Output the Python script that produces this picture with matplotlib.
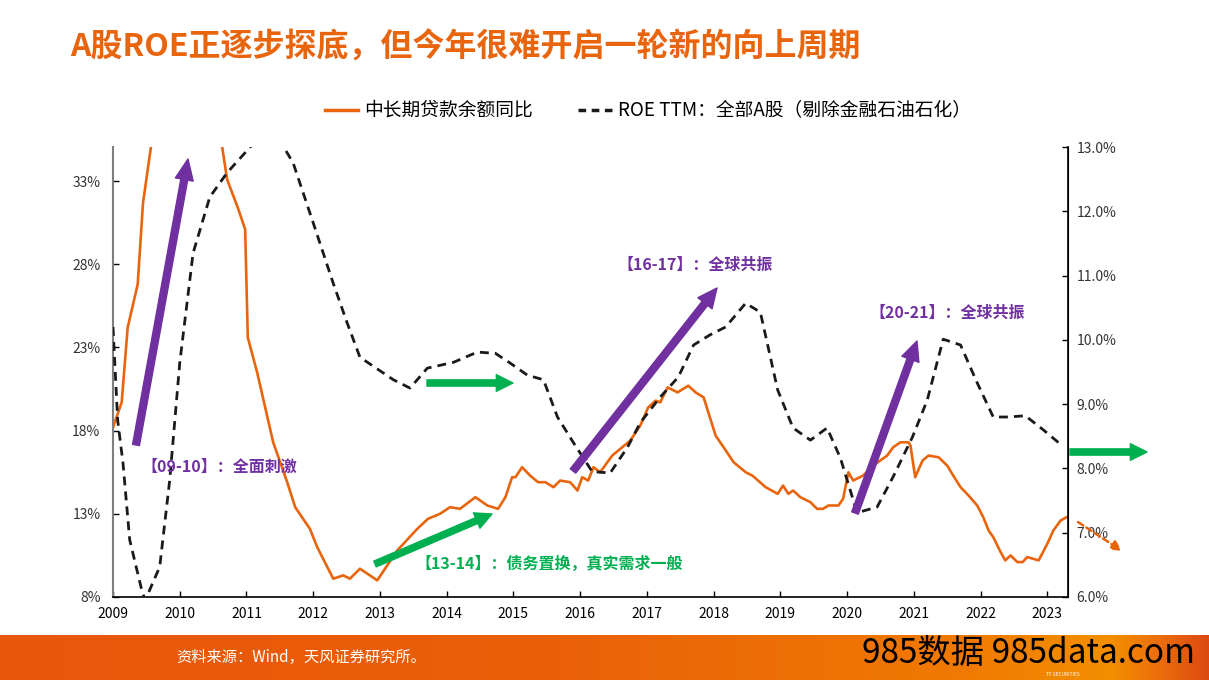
import numpy as np
import matplotlib
matplotlib.use("Agg")
import matplotlib.pyplot as plt
from matplotlib.lines import Line2D
from matplotlib.patches import FancyArrowPatch
from matplotlib.colors import LinearSegmentedColormap

plt.rcParams['font.family'] = ['Noto Sans CJK SC', 'DejaVu Sans']

# 中长期贷款余额同比 (左轴, %)
loan_t = [2009.00, 2009.13, 2009.22, 2009.37, 2009.45, 2009.62, 2009.90, 2010.30, 2010.63,
          2010.71, 2010.87, 2010.98, 2011.02, 2011.16, 2011.40, 2011.61, 2011.73, 2011.95,
          2012.06, 2012.30, 2012.45, 2012.55, 2012.70, 2012.96, 2013.26, 2013.56, 2013.72,
          2013.90, 2014.05, 2014.20, 2014.43, 2014.61, 2014.77, 2014.88, 2014.98, 2015.03,
          2015.13, 2015.25, 2015.37, 2015.48, 2015.60, 2015.70, 2015.85, 2015.96, 2016.03,
          2016.12, 2016.20, 2016.30, 2016.48, 2016.57, 2016.75, 2016.90, 2017.02, 2017.13,
          2017.20, 2017.31, 2017.46, 2017.62, 2017.73, 2017.85, 2018.03, 2018.15, 2018.30,
          2018.48, 2018.58, 2018.78, 2018.96, 2019.04, 2019.12, 2019.19, 2019.30, 2019.45,
          2019.55, 2019.64, 2019.72, 2019.87, 2019.94, 2020.02, 2020.09, 2020.24, 2020.39,
          2020.60, 2020.69, 2020.80, 2020.92, 2020.95, 2021.02, 2021.13, 2021.22, 2021.37,
          2021.50, 2021.59, 2021.70, 2021.82, 2021.95, 2022.04, 2022.12, 2022.19, 2022.30,
          2022.37, 2022.45, 2022.55, 2022.63, 2022.70, 2022.87, 2023.00, 2023.09, 2023.20,
          2023.29]
loan_v = [18.2, 19.7, 24.2, 26.8, 31.7, 36.5, 40.0, 40.0, 35.2,
          33.1, 31.4, 30.1, 23.6, 21.5, 17.3, 14.9, 13.4, 12.1,
          11.0, 9.1, 9.3, 9.1, 9.7, 9.0, 10.8, 12.1, 12.7,
          13.0, 13.4, 13.3, 14.0, 13.5, 13.3, 14.0, 15.2, 15.2,
          15.8, 15.3, 14.9, 14.9, 14.6, 15.0, 14.9, 14.4, 15.2,
          15.0, 15.8, 15.5, 16.5, 16.8, 17.4, 18.3, 19.4, 19.8,
          19.7, 20.6, 20.3, 20.7, 20.3, 20.0, 17.7, 17.0, 16.1,
          15.5, 15.3, 14.6, 14.2, 14.7, 14.2, 14.4, 14.0, 13.7,
          13.3, 13.3, 13.5, 13.5, 13.9, 15.5, 15.0, 15.3, 15.9,
          16.5, 17.0, 17.3, 17.3, 17.1, 15.2, 16.2, 16.5, 16.4,
          15.9, 15.3, 14.6, 14.1, 13.5, 12.8, 12.0, 11.6, 10.7,
          10.2, 10.5, 10.1, 10.1, 10.4, 10.2, 11.2, 12.0, 12.6,
          12.8]

# ROE TTM：全部A股（剔除金融石油石化）(右轴, %)
roe_t = [2009.00, 2009.07, 2009.15, 2009.25, 2009.43, 2009.48, 2009.55, 2009.70, 2009.85,
         2010.00, 2010.20, 2010.45, 2010.71, 2011.10, 2011.32, 2011.53, 2011.70, 2012.00,
         2012.30, 2012.51, 2012.70, 2013.20, 2013.45, 2013.71, 2014.10, 2014.46, 2014.73,
         2014.95, 2015.21, 2015.45, 2015.66, 2015.90, 2016.18, 2016.45, 2016.71, 2016.90,
         2017.20, 2017.47, 2017.70, 2017.95, 2018.18, 2018.48, 2018.70, 2018.96, 2019.19,
         2019.45, 2019.70, 2019.90, 2020.15, 2020.45, 2020.69, 2020.98, 2021.20, 2021.44,
         2021.70, 2021.95, 2022.19, 2022.42, 2022.67, 2022.94, 2023.17]
roe_v = [10.2, 8.75, 8.08, 6.89, 6.11, 5.95, 6.11, 6.47, 7.82,
         9.64, 11.35, 12.22, 12.60, 13.05, 13.15, 13.05, 12.75, 11.82,
         10.88, 10.26, 9.73, 9.38, 9.25, 9.56, 9.65, 9.81, 9.79,
         9.64, 9.45, 9.38, 8.80, 8.40, 7.95, 7.93, 8.33, 8.71,
         9.11, 9.42, 9.92, 10.08, 10.20, 10.57, 10.43, 9.22, 8.63,
         8.44, 8.63, 8.16, 7.31, 7.40, 7.87, 8.49, 9.06, 10.01,
         9.92, 9.33, 8.80, 8.80, 8.82, 8.60, 8.40]

years = list(range(2009, 2024))
left_ticks = [8, 13, 18, 23, 28, 33]
right_ticks = [6, 7, 8, 9, 10, 11, 12, 13]

ORANGE = '#E8650E'
PURPLE = '#7030A0'
GREEN = '#00B050'
W, H = 1209, 680


def fx(x):
    return x / W


def fy(y):
    return 1 - y / H


fig = plt.figure(figsize=(12.09, 6.80), dpi=100)

# 底部橙色条
band = fig.add_axes([0, 0, 1, fy(635)])
band.axis('off')
cmap = LinearSegmentedColormap.from_list(
    'band', [(0, '#E8560C'), (0.45, '#EA6008'), (0.8, '#F07A02'),
             (0.92, '#F38F00'), (0.96, '#EC6E0C'), (1, '#DC4A10')])
band.imshow(np.linspace(0, 1, 256)[None, :], aspect='auto', cmap=cmap,
            extent=[0, 1, 0, 1])
band.set_xlim(0, 1)
band.set_ylim(0, 1)

ax = fig.add_axes([fx(113), fy(597), fx(1068) - fx(113), fy(147) - fy(597)])
ax2 = ax.twinx()

ax.plot(loan_t, loan_v, color=ORANGE, lw=1.9, zorder=3)
ax2.plot(roe_t, roe_v, color='#1a1a1a', lw=2.0, ls=(0, (3.2, 2.2)), zorder=2)

ax.set_xlim(2009, 2023.31)
ax.set_ylim(8, 35.05)
ax2.set_ylim(6, 13)
ax.set_xticks(years)
ax.set_xticklabels([str(y) for y in years], fontsize=10)
ax.set_yticks(left_ticks)
ax.set_yticklabels([f'{v}%' for v in left_ticks], fontsize=10, color='#333333')
ax2.set_yticks(right_ticks)
ax2.set_yticklabels([f'{v:.1f}%' for v in right_ticks], fontsize=10, color='#333333')

for a in (ax, ax2):
    a.spines['top'].set_visible(False)
    a.tick_params(direction='in', length=4, width=1, pad=6)
ax.spines['left'].set_color('#7f7f7f')
ax.spines['left'].set_linewidth(1.5)
ax.spines['bottom'].set_linewidth(1.2)
ax2.spines['right'].set_linewidth(1.2)
ax2.spines['left'].set_visible(False)
ax2.spines['bottom'].set_visible(False)
ax.tick_params(axis='x', pad=7)
ax.tick_params(axis='y', pad=9)

# 标题
fig.text(fx(70), fy(48), 'A股ROE正逐步探底，但今年很难开启一轮新的向上周期',
         fontsize=23, fontweight='bold', color=ORANGE, va='center', ha='left')

# 图例
fig.add_artist(Line2D([fx(325), fx(358)], [fy(110), fy(110)], color=ORANGE, lw=2.5))
fig.text(fx(364), fy(110), '中长期贷款余额同比', fontsize=13.5, va='center', ha='left')
fig.add_artist(Line2D([fx(578), fx(612)], [fy(110), fy(110)], color='#1a1a1a', lw=2.5,
                      ls=(0, (2.2, 1.6))))
fig.text(fx(618), fy(110), 'ROE TTM：全部A股（剔除金融石油石化）', fontsize=13.5,
         va='center', ha='left')


def arrow(x0, y0, x1, y1, color, tail=5, hw=13, hl=13, **kw):
    p = FancyArrowPatch((fx(x0), fy(y0)), (fx(x1), fy(y1)), transform=fig.transFigure,
                        arrowstyle=f'simple,head_length={hl},head_width={hw},tail_width={tail}',
                        color=color, shrinkA=0, shrinkB=0, mutation_scale=1, **kw)
    fig.add_artist(p)


arrow(136, 445, 188, 159, PURPLE, tail=5, hw=13, hl=15)
arrow(427, 383, 513, 383, GREEN, tail=4.5, hw=12, hl=12)
arrow(375, 564, 492, 514, GREEN, tail=4.5, hw=12, hl=12)
arrow(573, 471, 717, 288, PURPLE, tail=5, hw=13, hl=14)
arrow(855, 513, 917, 341, PURPLE, tail=5, hw=13, hl=14)
arrow(1070, 452, 1147, 452, GREEN, tail=4.5, hw=12, hl=12)
fig.add_artist(FancyArrowPatch((fx(1078), fy(522)), (fx(1122), fy(551)),
                               transform=fig.transFigure, arrowstyle='-|>,head_length=6,head_width=3',
                               color=ORANGE, lw=1.8, ls=(0, (2.5, 1.5)), shrinkA=0, shrinkB=0,
                               mutation_scale=1))

# 注释文字
fig.text(fx(141), fy(467), '【09-10】：全面刺激', fontsize=11.5, fontweight='bold',
         color=PURPLE, va='center', ha='left')
fig.text(fx(617), fy(265), '【16-17】：全球共振', fontsize=11.5, fontweight='bold',
         color=PURPLE, va='center', ha='left')
fig.text(fx(869), fy(313), '【20-21】：全球共振', fontsize=11.5, fontweight='bold',
         color=PURPLE, va='center', ha='left')
fig.text(fx(415), fy(564), '【13-14】：债务置换，真实需求一般', fontsize=11.5,
         fontweight='bold', color=GREEN, va='center', ha='left')

# 底部来源
fig.text(fx(176), fy(657), '资料来源：Wind，天风证券研究所。', fontsize=11,
         color='white', va='center', ha='left')
fig.text(fx(1046), fy(675), 'TF SECURITIES', fontsize=3.5, color='white',
         va='center', ha='left')
fig.text(fx(862), fy(654), '985数据 985data.com', fontsize=24, color='black',
         va='center', ha='left')

fig.savefig('out.png', dpi=100)
